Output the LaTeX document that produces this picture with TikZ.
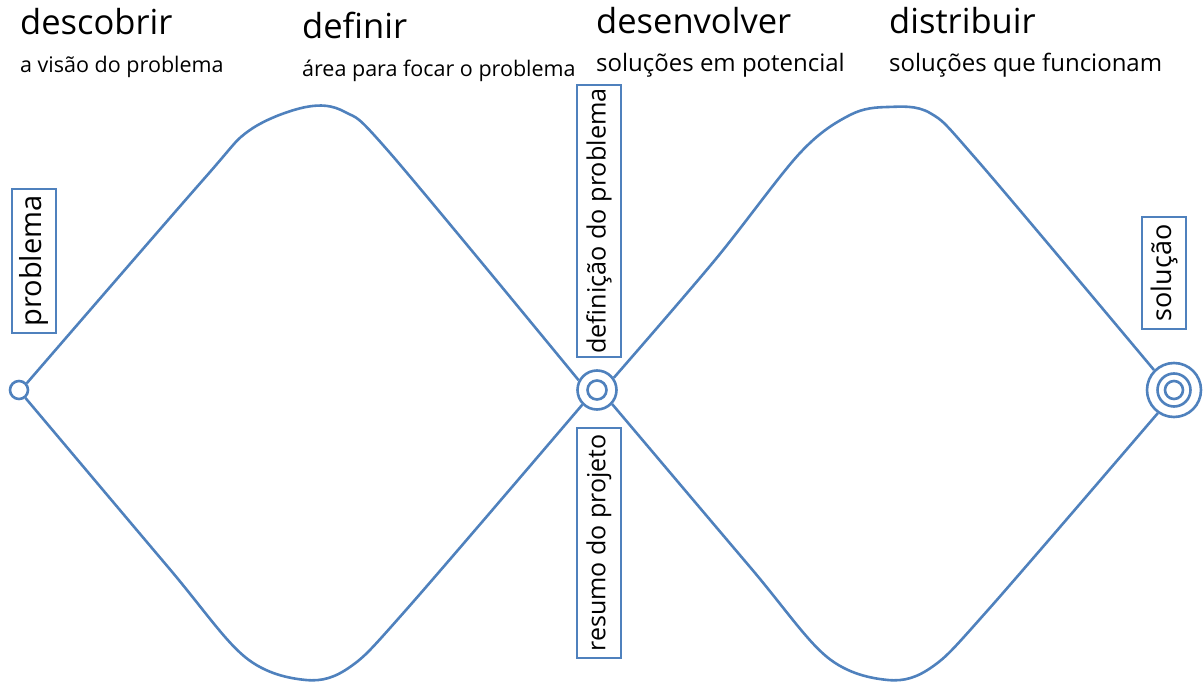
\documentclass[tikz,border=0pt]{standalone}
\usepackage{fontspec}
\setmainfont{Open Sans}
\definecolor{dblue}{HTML}{4F81BD}
\begin{document}
\begin{tikzpicture}[x=1pt,y=1pt,
  curve/.style={draw=dblue,line width=2.6pt,line join=round},
  ring/.style={circle,draw=dblue,line width=2.6pt,inner sep=0pt,fill=white},
  vbox/.style={draw=dblue,line width=2.5pt,rotate=90,minimum height=44pt,inner sep=0pt,fill=white},
  title/.style={anchor=base west,inner sep=0pt,font=\fontsize{34.5}{40}\selectfont},
  sub/.style={anchor=base west,inner sep=0pt,font=\fontsize{21.5}{25}\selectfont},
  subb/.style={anchor=base west,inner sep=0pt,font=\fontsize{24}{28}\selectfont}]
\useasboundingbox (0,0) rectangle (1203,683);
% circles
\node[ring,minimum size=18pt] (c1) at (19,293) {};
\node[ring,minimum size=39pt] (c2) at (597,293) {};
\node[ring,minimum size=19pt] (c2i) at (597,293) {};
\node[ring,minimum size=54pt] (c3) at (1174,293) {};
\node[ring,minimum size=33pt] (c3m) at (1174,293) {};
\node[ring,minimum size=18pt] (c3i) at (1174,293) {};
% curves
\draw[curve] plot[smooth,tension=0.55] coordinates {(c1.41) (203,503) (250,553) (306,576) (345,571) (390,530) (c2.152)};
\draw[curve] plot[smooth,tension=0.55] coordinates {(c1.-51) (168,116) (245,26) (306,3) (350,16) (406,73) (c2.-135)};
\draw[curve] plot[smooth,tension=0.55] coordinates {(c2.36) (715,423) (800,530) (850,568) (888,576) (930,570) (977,523) (c3.135)};
\draw[curve] plot[smooth,tension=0.55] coordinates {(c2.-43) (750,116) (827,26) (888,3) (932,16) (988,73) (c3.-125)};
% boxes
\node[vbox,font=\fontsize{29}{32}\selectfont,minimum width=144pt] (b1) at (34,422) {problema};
\node[vbox,font=\fontsize{25.2}{28}\selectfont,minimum width=272pt] (b2) at (599,462) {definição do problema};
\node[vbox,font=\fontsize{25}{28}\selectfont,minimum width=230pt] (b3) at (599,140) {resumo do projeto};
\node[vbox,font=\fontsize{27}{30}\selectfont,minimum width=112pt] (b4) at (1164,410) {solução};
% titles
\node[title] (t1) at (20,648) {descobrir};
\node[title] (t2) at (302,644) {definir};
\node[title] (t3) at (596,649) {desenvolver};
\node[title] (t4) at (889,649) {distribuir};
\node[sub] (s1) at (20,610) {a visão do problema};
\node[sub] (s2) at (302,606) {área para focar o problema};
\node[subb] (s3) at (596,611) {soluções em potencial};
\node[subb] (s4) at (889,611) {soluções que funcionam};
\end{tikzpicture}
\end{document}
